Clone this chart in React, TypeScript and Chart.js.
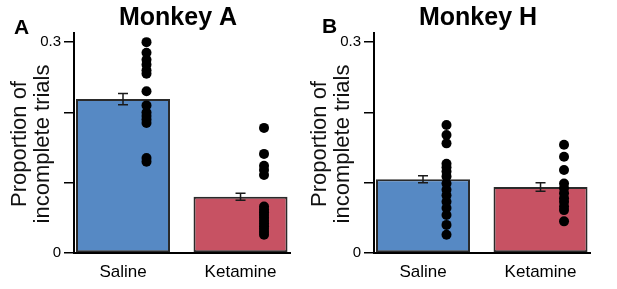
import React, { useEffect, useRef } from "react";
import { Chart, registerables } from "chart.js";

Chart.register(...registerables);

const categories = ["Saline", "Ketamine"];
const yTickValues = [0, 0.1, 0.2, 0.3];
const yTickLabels = ["0", "", "", "0.3"];

const monkeyAMeans = [0.219, 0.08];
const monkeyASem = [0.008, 0.005];
const monkeyASalineTrials = [0.3, 0.285, 0.275, 0.268, 0.26, 0.255, 0.23, 0.21, 0.2, 0.195, 0.19, 0.185, 0.135, 0.13];
const monkeyAKetamineTrials = [0.178, 0.141, 0.124, 0.118, 0.111, 0.066, 0.062, 0.058, 0.054, 0.05, 0.046, 0.042, 0.038, 0.034, 0.03, 0.026];

const monkeyHMeans = [0.105, 0.094];
const monkeyHSem = [0.005, 0.006];
const monkeyHSalineTrials = [0.182, 0.168, 0.156, 0.127, 0.122, 0.116, 0.109, 0.099, 0.09, 0.082, 0.073, 0.064, 0.054, 0.04, 0.026];
const monkeyHKetamineTrials = [0.154, 0.137, 0.118, 0.099, 0.092, 0.085, 0.078, 0.073, 0.066, 0.061, 0.045];

const FONT = "'Liberation Sans', Arial, Helvetica, sans-serif";
const BAR_COLORS = ["#5689c4", "#c75263"];
const DOT_OFFSET = 0.2;

type PanelProps = {
  title: string;
  letter: string;
  letterX: number;
  letterY: number;
  means: number[];
  sem: number[];
  trials: number[][];
};

function Panel({ title, letter, letterX, letterY, means, sem, trials }: PanelProps) {
  const ref = useRef<HTMLCanvasElement | null>(null);
  useEffect(() => {
    if (!ref.current) return;
    const errorBars = {
      id: "errorBars",
      afterDatasetsDraw(chart: any) {
        const { ctx, scales } = chart;
        const xs = scales.x;
        const ys = scales.y;
        ctx.save();
        ctx.strokeStyle = "#1a1a1a";
        ctx.lineWidth = 1.5;
        means.forEach((m, i) => {
          const x = xs.getPixelForValue(i);
          const y1 = ys.getPixelForValue(m + sem[i]);
          const y2 = ys.getPixelForValue(m - sem[i]);
          ctx.beginPath();
          ctx.moveTo(x, y1);
          ctx.lineTo(x, y2);
          ctx.moveTo(x - 5, y1);
          ctx.lineTo(x + 5, y1);
          ctx.moveTo(x - 5, y2);
          ctx.lineTo(x + 5, y2);
          ctx.stroke();
        });
        ctx.restore();
      },
    };
    const texts = {
      id: "texts",
      afterDraw(chart: any) {
        const { ctx, chartArea } = chart;
        ctx.save();
        ctx.fillStyle = "#000";
        ctx.font = `bold 25px ${FONT}`;
        ctx.textAlign = "center";
        ctx.textBaseline = "alphabetic";
        ctx.fillText(title, (chartArea.left + chartArea.right) / 2 - 4, 25);
        ctx.font = `bold 21px ${FONT}`;
        ctx.textAlign = "left";
        ctx.fillText(letter, letterX, letterY);
        ctx.font = `22px ${FONT}`;
        ctx.fillStyle = "#111";
        ctx.textAlign = "center";
        ctx.textBaseline = "middle";
        const cy = (chartArea.top + chartArea.bottom) / 2 + 1;
        ctx.translate(20, cy);
        ctx.rotate(-Math.PI / 2);
        ctx.fillText("Proportion of", 0, 0);
        ctx.fillText("incomplete trials", 0, 23);
        ctx.restore();
      },
    };
    const chart = new Chart(ref.current, {
      type: "bar",
      data: {
        datasets: [
          {
            type: "scatter",
            data: trials.flatMap((arr, i) => arr.map((v) => ({ x: i + DOT_OFFSET, y: v }))),
            backgroundColor: "#000",
            borderColor: "#000",
            pointRadius: 5,
            pointBorderWidth: 0,
            order: 1,
            clip: false,
          } as any,
          {
            type: "bar",
            data: means.map((m, i) => ({ x: i, y: m })),
            backgroundColor: BAR_COLORS,
            borderColor: "#2a2a2a",
            borderWidth: 2,
            borderSkipped: false,
            barPercentage: 1,
            categoryPercentage: 0.8,
            order: 2,
          } as any,
        ],
      },
      options: {
        animation: false,
        responsive: false,
        events: [],
        layout: { padding: { left: 0, right: 10, top: 33, bottom: 0 } },
        plugins: { legend: { display: false }, tooltip: { enabled: false }, title: { display: false } },
        scales: {
          x: {
            type: "linear",
            offset: false,
            grace: 0,
            min: -0.417,
            max: 1.421,
            afterBuildTicks: (scale: any) => {
              scale.ticks = categories.map((_, i) => ({ value: i }));
            },
            afterFit: (scale: any) => {
              scale.height = 36;
            },
            grid: { display: false, drawTicks: false, offset: false },
            border: { display: true, color: "#000", width: 2 },
            ticks: {
              padding: 9,
              color: "#000",
              font: { family: FONT, size: 17 },
              maxRotation: 0,
              autoSkip: false,
              callback: (v: any) => categories[Math.round(Number(v))] ?? "",
            },
          },
          y: {
            type: "linear",
            min: 0,
            max: 0.313,
            afterBuildTicks: (scale: any) => {
              scale.ticks = yTickValues.map((v) => ({ value: v }));
            },
            afterFit: (scale: any) => {
              scale.width = 74;
            },
            grid: {
              display: true,
              drawOnChartArea: false,
              drawTicks: true,
              tickLength: 10,
              color: "#000",
              lineWidth: 1.5,
            },
            border: { display: true, color: "#000", width: 2 },
            ticks: {
              padding: 3,
              color: "#000",
              font: { family: FONT, size: 15 },
              autoSkip: false,
              callback: (v: any) => {
                const idx = yTickValues.findIndex((t) => Math.abs(t - Number(v)) < 1e-9);
                return idx >= 0 ? yTickLabels[idx] : "";
              },
            },
          },
        },
      },
      plugins: [errorBars, texts],
    } as any);
    return () => chart.destroy();
  }, []);
  return <canvas ref={ref} width={300} height={289} style={{ display: "block" }} />;
}

export default function App() {
  useEffect(() => {
    document.body.style.margin = "0";
  }, []);
  return (
    <div style={{ position: "relative", width: 617, height: 289, background: "#fff" }}>
      <div style={{ position: "absolute", left: 0, top: 0 }}>
        <Panel
          title="Monkey A"
          letter="A"
          letterX={14}
          letterY={34}
          means={monkeyAMeans}
          sem={monkeyASem}
          trials={[monkeyASalineTrials, monkeyAKetamineTrials]}
        />
      </div>
      <div style={{ position: "absolute", left: 300, top: 0 }}>
        <Panel
          title="Monkey H"
          letter="B"
          letterX={22}
          letterY={33}
          means={monkeyHMeans}
          sem={monkeyHSem}
          trials={[monkeyHSalineTrials, monkeyHKetamineTrials]}
        />
      </div>
    </div>
  );
}
